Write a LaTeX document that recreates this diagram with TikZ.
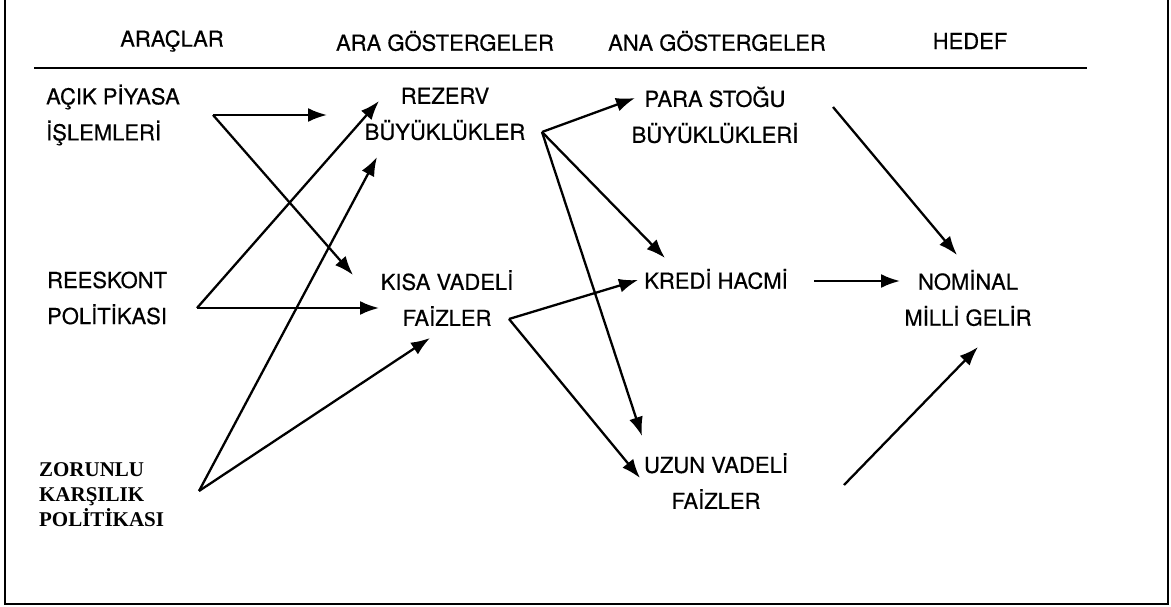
\documentclass[tikz,border=0pt]{standalone}
\usepackage{fontspec}
\setmainfont{TeX Gyre Heros}[FakeBold=0.5]
\newfontfamily\timesfont{Liberation Serif}
\usetikzlibrary{arrows.meta}

\begin{document}
\begin{tikzpicture}[
    x=1pt, y=-1pt,
    >={Latex[length=19pt,width=14pt]},
    line width=2.3pt,
    colhead/.style={font=\fontsize{22}{25}\selectfont, inner sep=0pt},
    item/.style={font=\fontsize{22}{36}\selectfont, align=center, inner sep=0pt},
    itemleft/.style={item, align=left, anchor=west},
    bolditem/.style={font=\timesfont\bfseries\fontsize{21}{25}\selectfont, align=left, anchor=west, inner sep=0pt},
    link/.style={->}
]
\useasboundingbox (0,0) rectangle (1171,607);
\draw[line width=1.8pt] (5,0) -- (5,604) -- (1168,604) -- (1168,0);

% column titles
\node[colhead] (araclar) at (172,41) {ARAÇLAR};
\node[colhead] (aragost) at (445,41) {ARA GÖSTERGELER};
\node[colhead] (anagost) at (717,41) {ANA GÖSTERGELER};
\node[colhead] (hedef) at (970,41) {HEDEF};
\draw[line width=1.3pt] (34,68) -- (1087,68);

% tools
\node[itemleft] (acik) at (45,115) {AÇIK PİYASA\\İŞLEMLERİ};
\node[itemleft] (reeskont) at (46,298) {REESKONT\\POLİTİKASI};
\node[bolditem] (zorunlu) at (38,495) {ZORUNLU\\KARŞILIK\\POLİTİKASI};

% intermediate indicators
\node[item] (rezerv) at (445,114) {REZERV\\BÜYÜKLÜKLER};
\node[item] (kisa) at (447,298) {KISA VADELİ\\FAİZLER};

% main indicators
\node[item] (para) at (715,115) {PARA STOĞU\\BÜYÜKLÜKLERİ};
\node[item] (kredi) at (716,279) {KREDİ HACMİ};
\node[item] (uzun) at (716,481) {UZUN VADELİ\\FAİZLER};

% target
\node[item] (nominal) at (968,298) {NOMİNAL\\MİLLİ GELİR};

% connector ends
\coordinate (acikout) at (213,115);
\coordinate (reesout) at (197,308);
\coordinate (zorout) at (199,491);
\coordinate (rezout) at (542,132);
\coordinate (kisaout) at (509,319);
\coordinate (paraout) at (833,107);
\coordinate (krediout) at (814,281);
\coordinate (uzunout) at (844,485);

\coordinate (rezin1) at (327,115);
\coordinate (rezin2) at (379,101);
\coordinate (rezin3) at (377,157);
\coordinate (kisain1) at (353,275);
\coordinate (kisain2) at (379,308);
\coordinate (kisain3) at (430,338);
\coordinate (parain) at (635,98);
\coordinate (kredin1) at (665,258);
\coordinate (kredin2) at (638,280);
\coordinate (uzunin1) at (642,436);
\coordinate (uzunin2) at (640,478);
\coordinate (nomin1) at (957,255);
\coordinate (nomin2) at (900,281);
\coordinate (nomin3) at (978,347);

\draw[link] (acikout) -- (rezin1);
\draw[link] (acikout) -- (kisain1);
\draw[link] (reesout) -- (rezin2);
\draw[link] (reesout) -- (kisain2);
\draw[link] (zorout) -- (rezin3);
\draw[link] (zorout) -- (kisain3);

\draw[link] (rezout) -- (parain);
\draw[link] (rezout) -- (kredin1);
\draw[link] (rezout) -- (uzunin1);
\draw[link] (kisaout) -- (kredin2);
\draw[link] (kisaout) -- (uzunin2);

\draw[link] (paraout) -- (nomin1);
\draw[link] (krediout) -- (nomin2);
\draw[link] (uzunout) -- (nomin3);
\end{tikzpicture}
\end{document}
